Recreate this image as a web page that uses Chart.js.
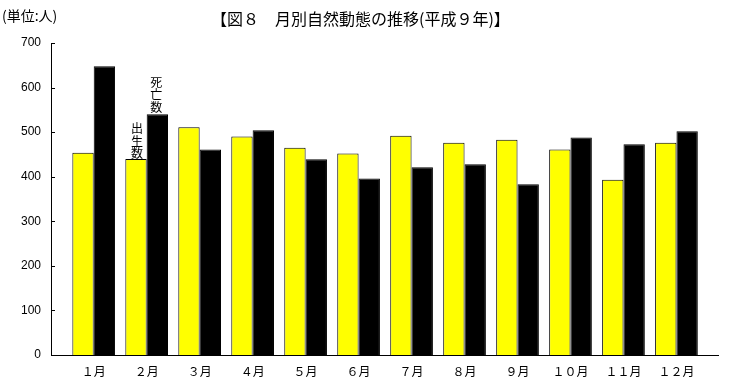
<!DOCTYPE html>
<html>
<head>
<meta charset="utf-8">
<script src="https://cdn.jsdelivr.net/npm/chart.js@4.4.1/dist/chart.umd.min.js"></script>
<style>
html,body{margin:0;padding:0;background:#fff;}
#wrap{width:731px;height:388px;position:relative;}
</style>
</head>
<body>
<div id="wrap"><canvas id="c" width="731" height="388"></canvas></div>
<script>
const months = ['１月','２月','３月','４月','５月','６月','７月','８月','９月','１０月','１１月','１２月'];
const births = [454,440,511,490,465,452,492,476,483,461,393,476];
const deaths = [648,540,461,504,439,396,421,428,383,488,473,502];
const yTicks = [0,100,200,300,400,500,600,700];
const titleText = '【図８　月別自然動態の推移(平成９年)】';
const unitText = '(単位:人)';
const birthLabel = ['出','生','数'];
const deathLabel = ['死','亡','数'];

const JP = '"Noto Sans CJK JP", "Noto Sans", sans-serif';

const decor = {
  id: 'decor',
  afterDraw(chart) {
    const ctx = chart.ctx;
    const ca = chart.chartArea;
    const ys = chart.scales.y;
    ctx.save();
    ctx.strokeStyle = '#000';
    ctx.lineWidth = 1;
    yTicks.forEach(v => {
      const y = Math.round(ys.getPixelForValue(v)) + 0.5;
      ctx.beginPath();
      ctx.moveTo(ca.left, y);
      ctx.lineTo(ca.left + 4, y);
      ctx.stroke();
    });
    ctx.fillStyle = '#000';
    ctx.font = '16px ' + JP;
    ctx.textAlign = 'left';
    ctx.textBaseline = 'middle';
    ctx.fillText(titleText, 211, 19);
    ctx.font = '14px ' + JP;
    ctx.fillText(unitText, 2, 16);
    ctx.font = '12px ' + JP;
    ctx.textAlign = 'center';
    ctx.textBaseline = 'bottom';
    const b = chart.getDatasetMeta(0).data[1];
    const d = chart.getDatasetMeta(1).data[1];
    const pitch = 12.5;
    birthLabel.forEach((ch, i) => {
      ctx.fillText(ch, b.x + 1, b.y + 1 - (birthLabel.length - 1 - i) * pitch);
    });
    deathLabel.forEach((ch, i) => {
      ctx.fillText(ch, d.x - 1, d.y - 1 - (deathLabel.length - 1 - i) * pitch);
    });
    ctx.restore();
  }
};

new Chart(document.getElementById('c'), {
  type: 'bar',
  data: {
    datasets: [
      {
        label: '出生数',
        data: births.map((v, i) => ({x: i, y: v})),
        backgroundColor: '#ffff00',
        borderColor: '#000',
        borderWidth: 1
      },
      {
        label: '死亡数',
        data: deaths.map((v, i) => ({x: i, y: v})),
        backgroundColor: '#000',
        borderColor: '#000',
        borderWidth: 1
      }
    ]
  },
  options: {
    responsive: false,
    animation: false,
    devicePixelRatio: 1,
    categoryPercentage: 0.806,
    barPercentage: 1.0,
    layout: {padding: {left: 0, right: 13, top: 43, bottom: 0}},
    plugins: {legend: {display: false}, tooltip: {enabled: false}, title: {display: false}},
    scales: {
      x: {
        type: 'linear',
        offset: false,
        min: -0.806,
        max: 11.784,
        afterBuildTicks: (axis) => { axis.ticks = months.map((m, i) => ({value: i})); },
        afterFit: (scale) => { scale.height = 33; },
        grid: {display: false, drawTicks: false, offset: false},
        border: {display: true, color: '#000', width: 1},
        ticks: {
          callback: (v) => months[v],
          font: {family: JP, size: 12},
          color: '#000',
          padding: 9,
          maxRotation: 0,
          autoSkip: false
        }
      },
      y: {
        min: 0,
        max: 700,
        afterBuildTicks: (axis) => { axis.ticks = yTicks.map(v => ({value: v})); },
        afterFit: (scale) => { scale.width = 51; },
        grid: {display: false, drawTicks: false},
        border: {display: true, color: '#000', width: 1},
        ticks: {
          font: {family: '"Liberation Sans", Arial, sans-serif', size: 12},
          color: '#000',
          padding: 10
        }
      }
    }
  },
  plugins: [decor]
});
</script>
</body>
</html>
